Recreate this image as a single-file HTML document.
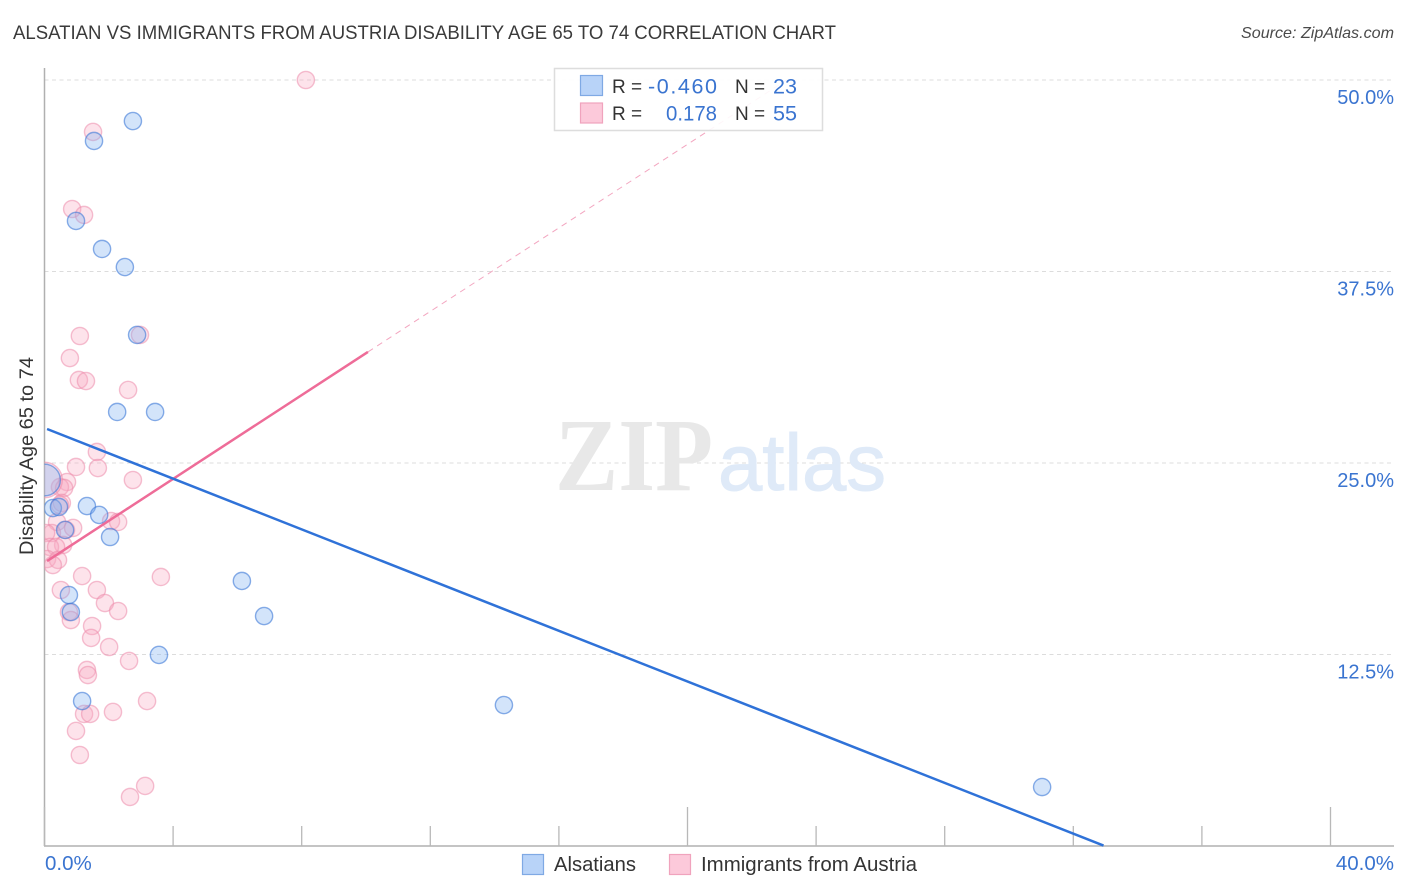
<!DOCTYPE html>
<html lang="en">
<head>
<meta charset="utf-8">
<title>Alsatian vs Immigrants from Austria Disability Age 65 to 74 Correlation Chart</title>
<style>
html,body{margin:0;padding:0;background:#fff;}
svg{display:block;font-family:"Liberation Sans",sans-serif;}
</style>
</head>
<body>
<svg id="chart" xmlns="http://www.w3.org/2000/svg" width="1406" height="892" viewBox="0 0 1406 892">
  <defs>
    <clipPath id="plot-clip"><rect x="44.5" y="60" width="1350" height="786"/></clipPath>
  </defs>
  <rect x="0" y="0" width="1406" height="892" fill="#ffffff"/>
  <text x="13" y="39" font-size="19.5" fill="#3a3a3a" textLength="823" lengthAdjust="spacingAndGlyphs">ALSATIAN VS IMMIGRANTS FROM AUSTRIA DISABILITY AGE 65 TO 74 CORRELATION CHART</text>
  <text x="1241" y="38" font-size="16" font-style="italic" fill="#4a4a4a" textLength="153" lengthAdjust="spacingAndGlyphs">Source: ZipAtlas.com</text>
  <g id="grid"></g>
  <g>
    <text x="555" y="490" font-family="'Liberation Serif',serif" font-weight="bold" font-size="104" fill="#e8e8e8" textLength="158" lengthAdjust="spacingAndGlyphs">ZIP</text>
    <text x="718" y="490" font-size="80" fill="#dfeaf8" stroke="#dfeaf8" stroke-width="1" textLength="168" lengthAdjust="spacingAndGlyphs">atlas</text>
  </g>
  <g id="axes"></g>
  <g id="points-pink" clip-path="url(#plot-clip)"></g>
  <g id="points-blue" clip-path="url(#plot-clip)"></g>
  <g id="trends"></g>
  <text transform="translate(33,456) rotate(-90)" font-size="19" fill="#333333" text-anchor="middle" textLength="198" lengthAdjust="spacingAndGlyphs">Disability Age 65 to 74</text>
  <g id="tick-labels"></g>
  <g>
    <rect x="554.5" y="68.5" width="268" height="62" fill="#ffffff" fill-opacity="0.9" stroke="#dddddd" stroke-width="1.5"/>
    <rect x="580.5" y="75.5" width="22" height="20" fill="#b8d3f8" stroke="#7fa9e4" stroke-width="1.2"/>
    <rect x="580.5" y="103" width="22" height="20" fill="#fcc9da" stroke="#f0a3bd" stroke-width="1.2"/>
    <text x="612" y="93" font-size="19" fill="#333333">R =</text>
    <text x="648" y="93.5" font-size="21.5" fill="#3a74d0" textLength="69" lengthAdjust="spacing">-0.460</text>
    <text x="735" y="93" font-size="19" fill="#333333">N =</text>
    <text x="773" y="93.5" font-size="21" fill="#3a74d0" textLength="24" lengthAdjust="spacingAndGlyphs">23</text>
    <text x="612" y="120" font-size="19" fill="#333333">R =</text>
    <text x="666" y="120.5" font-size="21" fill="#3a74d0" textLength="51" lengthAdjust="spacingAndGlyphs">0.178</text>
    <text x="735" y="120" font-size="19" fill="#333333">N =</text>
    <text x="773" y="120.5" font-size="21" fill="#3a74d0" textLength="24" lengthAdjust="spacingAndGlyphs">55</text>
  </g>
  <g>
    <g>
      <rect x="522.5" y="854.5" width="21" height="20" fill="#b8d3f8" stroke="#7fa9e4" stroke-width="1.2"/>
      <text x="554" y="871" font-size="20" fill="#333333" textLength="82" lengthAdjust="spacingAndGlyphs">Alsatians</text>
    </g>
    <g>
      <rect x="669.5" y="854.5" width="21" height="20" fill="#fcc9da" stroke="#f0a3bd" stroke-width="1.2"/>
      <text x="701" y="871" font-size="20" fill="#333333" textLength="216" lengthAdjust="spacingAndGlyphs">Immigrants from Austria</text>
    </g>
  </g>
</svg>
<script>
const xTicks = [0, 4, 8, 12, 16, 20, 24, 28, 32, 36, 40];
const xMajorTicks = [0, 20, 40];
const xTickLabels = ["0.0%", "40.0%"];
const yTicks = [12.5, 25, 37.5, 50];
const yTickLabels = ["12.5%", "25.0%", "37.5%", "50.0%"];

const alsatianX = [2.75, 1.54, 0.98, 1.79, 2.50, 2.88, 2.26, 3.44, 1.32, 1.70, 2.04, 0.26, 0.45, 0.64, 0.76, 0.82, 6.14, 6.83, 3.56, 1.17, 14.29, 31.03, 0];
const alsatianY = [47.32, 46.02, 40.80, 38.97, 37.79, 33.36, 28.33, 28.33, 22.19, 21.61, 20.17, 22.06, 22.13, 20.63, 16.38, 15.27, 17.30, 15.01, 12.47, 9.46, 9.20, 3.85, 23.89];
const alsatianWeight = [1, 1, 1, 1, 1, 1, 1, 1, 1, 1, 1, 1, 1, 1, 1, 1, 1, 1, 1, 1, 1, 1, 3.4];

const austriaX = [8.13, 1.51, 0.86, 1.23, 2.97, 1.10, 0.79, 1.07, 1.29, 2.60, 1.63, 1.66, 0.98, 2.75, 0.70, 0.48, 0.61, 0, 0.54, 0.48, 0.39, 0.67, 0.89, 2.07, 2.29, 0.23, 0.05, 0.58, 0.17, 0.36, 0.08, 0.42, 0.26, 1.17, 3.62, 0.51, 1.63, 1.88, 2.29, 0.76, 0.82, 1.48, 1.45, 2.01, 2.63, 1.32, 1.35, 3.19, 2.13, 1.23, 1.42, 0.98, 1.10, 3.13, 2.66];
const austriaY = [50.00, 46.61, 41.58, 41.19, 33.36, 33.29, 31.85, 30.42, 30.35, 29.77, 25.72, 24.67, 24.74, 23.89, 23.76, 23.43, 23.37, 23.89, 22.39, 22.26, 21.15, 20.63, 20.76, 21.21, 21.15, 20.43, 20.43, 19.65, 19.52, 19.52, 18.73, 18.67, 18.34, 17.62, 17.56, 16.71, 16.71, 15.86, 15.34, 15.27, 14.75, 14.36, 13.58, 12.99, 12.08, 11.49, 11.16, 9.46, 8.75, 8.62, 8.62, 7.51, 5.94, 3.92, 3.20];
const austriaWeight = [1, 1, 1, 1, 1, 1, 1, 1, 1, 1, 1, 1, 1, 1, 1, 1, 1, 4.3, 1, 1, 1, 1, 1, 1, 1, 1, 1, 1, 1, 1, 1, 1, 1, 1, 1, 1, 1, 1, 1, 1, 1, 1, 1, 1, 1, 1, 1, 1, 1, 1, 1, 1, 1, 1, 1];

const alsatianTrendX = [0.08, 32.94];
const alsatianTrendY = [27.22, 0.03];
const austriaTrendX = [0.08, 10.06];
const austriaTrendY = [18.60, 32.25];
const austriaDashX = [10.06, 23.08];
const austriaDashY = [32.25, 50];

const SVG_NS = "http://www.w3.org/2000/svg";
const xScale = v => 44.5 + v * (1286 / 40);
const yScale = v => 846 - v * (766 / 50);
const BASE_R = 8.6;

function make(tag, attrs, parent, text) {
  const el = document.createElementNS(SVG_NS, tag);
  for (const k in attrs) el.setAttribute(k, attrs[k]);
  if (text !== undefined) el.textContent = text;
  document.getElementById(parent).appendChild(el);
  return el;
}

yTicks.forEach(t => {
  const el = make("line", {x1: 44.5, x2: 1394, y1: yScale(t), y2: yScale(t), stroke: "#dcdcdc", "stroke-width": 1, "stroke-dasharray": "4 3.5"}, "grid");
  
  
});

const yAxisLine = make("line", {x1: 44.5, x2: 44.5, y1: 68, y2: 846, stroke: "#b0b0b0", "stroke-width": 1.5}, "axes");


const xAxisLine = make("line", {x1: 44, x2: 1394, y1: 846, y2: 846, stroke: "#b0b0b0", "stroke-width": 1.5}, "axes");



xTicks.forEach(t => {
  const top = xMajorTicks.includes(t) ? 807 : 826;
  const el = make("line", {x1: xScale(t), x2: xScale(t), y1: top, y2: 846, stroke: "#b8b8b8", "stroke-width": 1.3}, "axes");
  
  
});

yTickLabels.forEach((label, i) => {
  const el = make("text", {x: 1394, y: yScale(yTicks[i]) + 24, "font-size": 20, fill: "#3a74d0", "text-anchor": "end"}, "tick-labels", label);
  
  
});

const xLabelLeft = make("text", {x: 45, y: 870, "font-size": 20.5, fill: "#3a74d0"}, "tick-labels", xTickLabels[0]);


const xLabelRight = make("text", {x: 1394, y: 870, "font-size": 20.5, fill: "#3a74d0", "text-anchor": "end"}, "tick-labels", xTickLabels[1]);



austriaX.forEach((v, i) => {
  const el = make("circle", {cx: xScale(v), cy: yScale(austriaY[i]), r: BASE_R * Math.sqrt(austriaWeight[i]), fill: "rgba(248,170,195,0.33)", stroke: "rgba(236,140,172,0.55)", "stroke-width": 1.4}, "points-pink");
  
  
});

alsatianX.forEach((v, i) => {
  const el = make("circle", {cx: xScale(v), cy: yScale(alsatianY[i]), r: BASE_R * Math.sqrt(alsatianWeight[i]), fill: "rgba(130,178,240,0.35)", stroke: "rgba(60,120,215,0.6)", "stroke-width": 1.4}, "points-blue");
  
  
});

const austriaDash = make("line", {x1: xScale(austriaDashX[0]), y1: yScale(austriaDashY[0]), x2: xScale(austriaDashX[1]), y2: yScale(austriaDashY[1]), stroke: "#f3a6c0", "stroke-width": 1, "stroke-dasharray": "6 5"}, "trends");


const austriaTrend = make("line", {x1: xScale(austriaTrendX[0]), y1: yScale(austriaTrendY[0]), x2: xScale(austriaTrendX[1]), y2: yScale(austriaTrendY[1]), stroke: "#ee6c98", "stroke-width": 2.5}, "trends");


const alsatianTrend = make("line", {x1: xScale(alsatianTrendX[0]), y1: yScale(alsatianTrendY[0]), x2: xScale(alsatianTrendX[1]), y2: yScale(alsatianTrendY[1]), stroke: "#2f72d8", "stroke-width": 2.5}, "trends");


</script>
</body>
</html>
